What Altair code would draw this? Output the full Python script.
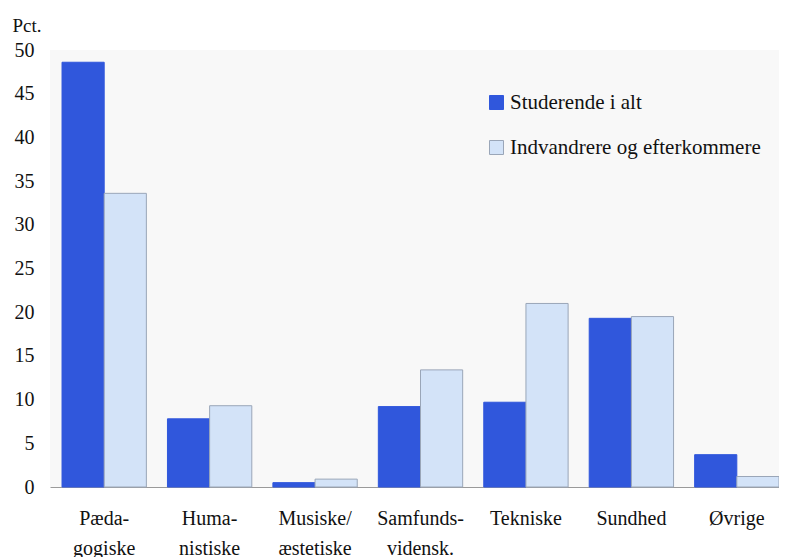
import altair as alt
import pandas as pd

categories = ["Pæda-|gogiske", "Huma-|nistiske", "Musiske/|æstetiske", "Samfunds-|vidensk.",
              "Tekniske", "Sundhed", "Øvrige"]
series = ["Studerende i alt", "Indvandrere og efterkommere"]
studerende = [48.6, 7.8, 0.5, 9.2, 9.7, 19.3, 3.7]
indvandrere = [33.6, 9.3, 0.9, 13.4, 21.0, 19.5, 1.2]
y_ticks = [0, 5, 10, 15, 20, 25, 30, 35, 40, 45, 50]

rows = []
for c, a, b in zip(categories, studerende, indvandrere):
    rows.append({"kategori": c, "serie": series[0], "pct": a})
    rows.append({"kategori": c, "serie": series[1], "pct": b})
df = pd.DataFrame(rows)

FONT = "'Liberation Serif', 'DejaVu Serif', serif"

chart = alt.Chart(df).mark_bar(strokeWidth=1).encode(
    x=alt.X("kategori:N", sort=categories,
            scale=alt.Scale(paddingInner=0.2, paddingOuter=0.057, align=1),
            axis=alt.Axis(title=None, labelAngle=0, ticks=False, labelPadding=21,
                          labelExpr="split(datum.label, '|')", labelLineHeight=30,
                          labelBaseline="top", labelFontSize=20, labelFont=FONT,
                          labelColor="#111", labelLimit=0,
                          domainColor="#9a9a9a", domainWidth=1)),
    xOffset=alt.XOffset("serie:N", sort=series),
    y=alt.Y("pct:Q", scale=alt.Scale(domain=[0, 50], nice=False),
            axis=alt.Axis(values=y_ticks, grid=False, ticks=False, domain=False,
                          labelPadding=16, labelFontSize=20, labelFont=FONT, labelColor="#111",
                          title="Pct.", titleAngle=0, titleFont=FONT, titleFontSize=19,
                          titleFontWeight="normal", titleColor="#111", titleAlign="left",
                          titleBaseline="middle", titleX=-38, titleY=-25)),
    color=alt.Color("serie:N", sort=series,
                    scale=alt.Scale(domain=series, range=["#3057dc", "#d3e3f8"]),
                    legend=alt.Legend(title=None, orient="none", legendX=436, legendY=42,
                                      symbolType="square", symbolSize=196, symbolStrokeWidth=1,
                                      labelFont=FONT, labelFontSize=21, labelColor="#111",
                                      labelLimit=0, rowPadding=23, labelOffset=3)),
    stroke=alt.Stroke("serie:N", sort=series,
                      scale=alt.Scale(domain=series, range=["#3057dc", "#9aa6b8"]),
                      legend=None),
).properties(
    width=729, height=437,
    autosize=alt.AutoSizeParams(type="none"),
    padding={"left": 42, "top": 42, "right": 0, "bottom": 70},
).configure_view(fill="#f8f8f8", stroke=None)

chart.save("out.html", embed_options={"renderer": "svg", "actions": False})
